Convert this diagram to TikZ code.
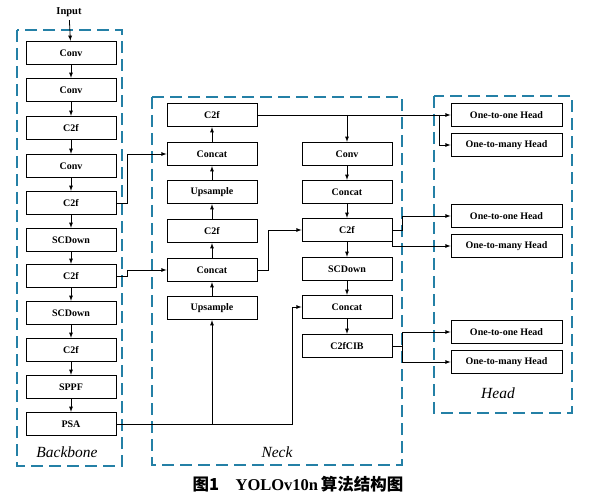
\documentclass[tikz,border=0pt]{standalone}
\usepackage{fontspec}
\setmainfont{Liberation Serif}
\newfontfamily\cjk{Noto Sans CJK SC}
\usepackage{tikz}
\usetikzlibrary{positioning}
\definecolor{boxblue}{RGB}{36,128,166}

\begin{document}
\begin{tikzpicture}[
        x=1pt, y=-1pt, >=latex,
        block/.style={rectangle, draw=black, line width=0.8pt, fill=white, minimum width=90pt, minimum height=23.5pt, inner sep=0pt, font=\fontsize{10}{12}\selectfont\bfseries},
        headblock/.style={block, minimum width=111pt},
        region/.style={draw=boxblue, line width=1.8pt, dash pattern=on 12pt off 6pt},
        tag/.style={font=\fontsize{15.5}{17}\selectfont\itshape},
        link/.style={->, line width=0.8pt}
    ]
    \useasboundingbox (0,0) rectangle (597,497);

    % Dashed regions
    \draw[region] (17,30) rectangle (122,466);
    \draw[region] (152,97) rectangle (402,465);
    \draw[region] (434,96) rectangle (572,413);
    \node[tag] at (67,452) {Backbone};
    \node[tag] at (277,452) {Neck};
    \node[tag] at (498,393) {Head};

    % Backbone
    \node[font=\fontsize{10.5}{12}\selectfont\bfseries] (in) at (69,12) {Input};
    \node[block] (B1) at (71,53) {Conv};
    \node[block] (B2) at (71,90) {Conv};
    \node[block] (B3) at (71,128) {C2f};
    \node[block] (B4) at (71,166) {Conv};
    \node[block] (B5) at (71,203) {C2f};
    \node[block] (B6) at (71,240) {SCDown};
    \node[block] (B7) at (71,276) {C2f};
    \node[block] (B8) at (71,313) {SCDown};
    \node[block] (B9) at (71,350) {C2f};
    \node[block] (B10) at (71,387) {SPPF};
    \node[block] (B11) at (71,424) {PSA};

    % Neck - left column
    \node[block] (NL1) at (212,115) {C2f};
    \node[block] (NL2) at (212,154) {Concat};
    \node[block] (NL3) at (212,192) {Upsample};
    \node[block] (NL4) at (212,231) {C2f};
    \node[block] (NL5) at (212,270) {Concat};
    \node[block] (NL6) at (212,308) {Upsample};

    % Neck - right column
    \node[block] (NR1) at (347,154) {Conv};
    \node[block] (NR2) at (347,192) {Concat};
    \node[block] (NR3) at (347,230) {C2f};
    \node[block] (NR4) at (347,269) {SCDown};
    \node[block] (NR5) at (347,307) {Concat};
    \node[block] (NR6) at (347,346) {C2fCIB};

    % Head
    \node[headblock] (H1) at (506.5,115) {One-to-one Head};
    \node[headblock] (H2) at (506.5,145) {One-to-many Head};
    \node[headblock] (H3) at (506.5,216) {One-to-one Head};
    \node[headblock] (H4) at (506.5,246) {One-to-many Head};
    \node[headblock] (H5) at (506.5,332) {One-to-one Head};
    \node[headblock] (H6) at (506.5,362) {One-to-many Head};

    % Chains
    \draw[link] (in) -- (B1);
    \foreach \a/\b in {B1/B2, B2/B3, B3/B4, B4/B5, B5/B6, B6/B7, B7/B8, B8/B9, B9/B10, B10/B11,
                       NL6/NL5, NL5/NL4, NL4/NL3, NL3/NL2, NL2/NL1,
                       NR1/NR2, NR2/NR3, NR3/NR4, NR4/NR5, NR5/NR6}
        \draw[link] (\a) -- (\b);

    % Cross links
    \draw[link] (B5.east) -- ++(11,0) |- (NL2.west);
    \draw[link] (B7.east) -- ++(11,0) |- (NL5.west);
    \draw[link] (B11.east) -- ++(176,0) |- (NR5.west);
    \draw[link] (NL6.south |- B11.east) -- (NL6.south);
    \draw[link] (NL5.east) -- ++(11,0) |- (NR3.west);
    \draw[link] (NL1.east) -- (H1.west);
    \draw[link] (NR1.north |- NL1.east) -- (NR1.north);
    \draw[link] ([xshift=-11pt]H1.west) |- (H2.west);
    \draw[link] (NR3.east) -- ++(10,0) |- (H3.west);
    \draw[link] (NR3.south east) |- (H4.west);
    \draw[line width=0.8pt] (NR6.east) -- ++(10,0) coordinate (s3);
    \draw[link] (s3) |- (H5.west);
    \draw[link] (s3) |- (H6.west);

    % Caption
    \node[font=\fontsize{16.5}{19}\selectfont\bfseries] (cap) at (298,484) {{\cjk 图1}\quad YOLOv10n\,{\cjk 算法结构图}};
\end{tikzpicture}
\end{document}
